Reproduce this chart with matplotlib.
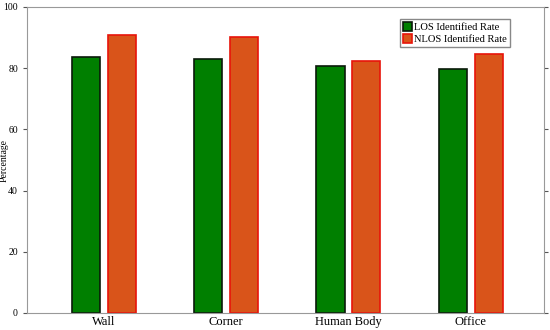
import numpy as np
import matplotlib
matplotlib.use("Agg")
import matplotlib.pyplot as plt

# values
categories = ['Wall', 'Corner', 'Human Body', 'Office']
los_rate = [83.8, 82.9, 80.7, 79.8]
nlos_rate = [90.8, 90.3, 82.4, 84.6]

plt.rcParams['font.family'] = ['Liberation Serif', 'DejaVu Serif']

fig = plt.figure(figsize=(5.5, 3.3), dpi=100)
ax = fig.add_axes([27/550, 17/330, 517/550, 306/330])

x = np.arange(1, len(categories) + 1)
w = 0.23
ax.bar(x - 0.147, los_rate, w, color='#007f00', edgecolor='#0a1a0a', linewidth=1.2,
       label='LOS Identified Rate')
ax.bar(x + 0.147, nlos_rate, w, color='#d9541a', edgecolor='#e8140a', linewidth=1.2,
       label='NLOS Identified Rate')

ax.set_xlim(0.37, 4.6)
ax.set_ylim(0, 100)
ax.set_yticks(range(0, 101, 20))
ax.set_xticks(x)
ax.set_xticklabels(categories, fontsize=9)
ax.tick_params(axis='y', labelsize=7, direction='out', length=3, right=True, color='#555555')
ax.tick_params(axis='x', length=0, pad=2)
ax.set_ylabel('Percentage', fontsize=7)
ax.yaxis.set_label_coords(-0.035, 0.5)
for s in ax.spines.values():
    s.set_color('#999999')

leg = ax.legend(loc='upper right', bbox_to_anchor=(0.934, 0.96), fontsize=7.6,
                handlelength=0.9, handleheight=1.0, handletextpad=0.2,
                borderpad=0.25, labelspacing=0.15, borderaxespad=0,
                fancybox=False, framealpha=1)
leg.get_frame().set_edgecolor('#888888')

fig.savefig('out.png')
